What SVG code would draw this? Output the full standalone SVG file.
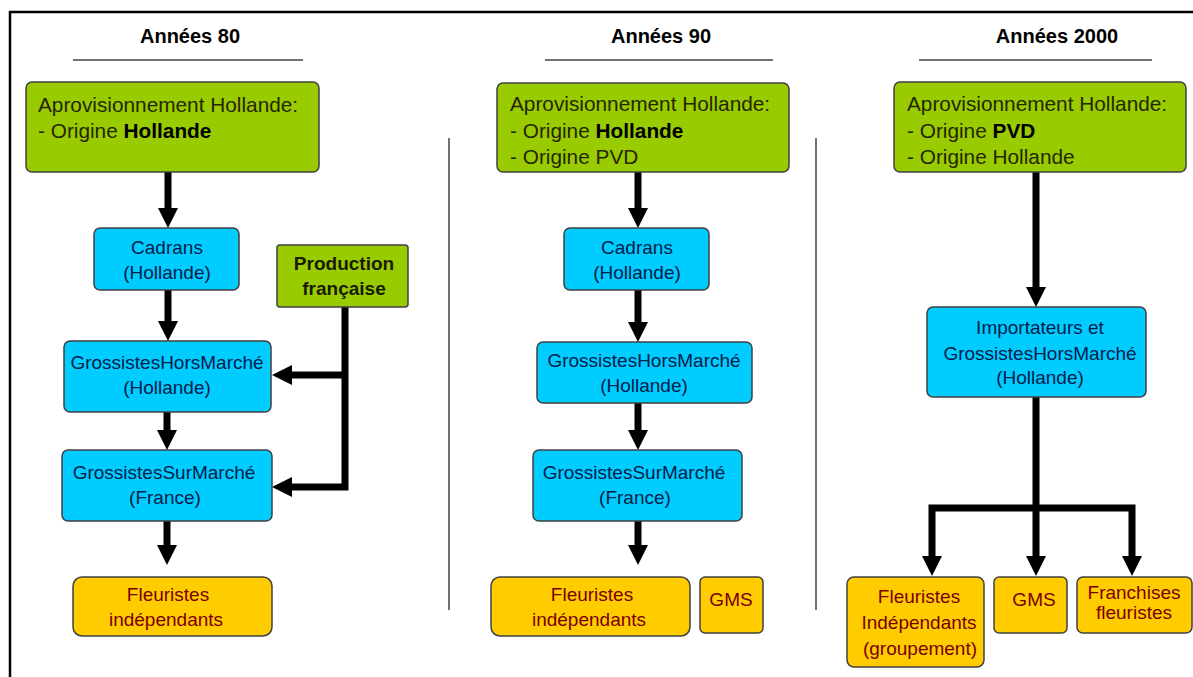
<svg xmlns="http://www.w3.org/2000/svg" width="1193" height="677" viewBox="0 0 1193 677">
  <defs>
    <marker id="arrow" markerUnits="userSpaceOnUse" markerWidth="20" markerHeight="20" viewBox="0 0 20 20" refX="6" refY="10" orient="auto">
      <path d="M0,0 L20,10 L0,20 z" fill="#000"/>
    </marker>
    <style>
      text { font-family: "Liberation Sans", Arial, sans-serif; }
      .hdr { font-size: 20px; font-weight: bold; fill: #000; text-anchor: middle; }
      .rule { stroke: #404040; stroke-width: 1.5; }
      .box { stroke: #404040; stroke-width: 1.5; }
      .green { fill: #99CC00; }
      .blue { fill: #00CCFF; }
      .orange { fill: #FFCC00; }
      .gt { font-size: 20.8px; fill: #262600; }
      .bt { font-size: 19px; fill: #00204a; text-anchor: middle; }
      .ot { font-size: 19px; fill: #7a0000; text-anchor: middle; }
      .pt { font-size: 19px; font-weight: bold; fill: #1a1a00; text-anchor: middle; }
      .b { font-weight: bold; fill: #000; }
      .conn { stroke: #000; stroke-width: 7; fill: none; }
    </style>
  </defs>

  <rect width="1193" height="677" fill="#fff"/>

  <!-- outer frame (top and left edges) -->
  <path d="M10,677 V12 H1193" fill="none" stroke="#000" stroke-width="2.5"/>

  <!-- column headers -->
  <g id="headers">
    <text class="hdr" x="190" y="43">Années 80</text>
    <line class="rule" x1="73" y1="60" x2="303" y2="60"/>
    <text class="hdr" x="661" y="43">Années 90</text>
    <line class="rule" x1="545" y1="60" x2="773" y2="60"/>
    <text class="hdr" x="1057" y="43">Années 2000</text>
    <line class="rule" x1="919" y1="60" x2="1152" y2="60"/>
  </g>

  <!-- column dividers -->
  <g id="dividers">
    <line class="rule" x1="449" y1="138" x2="449" y2="610"/>
    <line class="rule" x1="816" y1="138" x2="816" y2="610"/>
  </g>

  <!-- connectors -->
  <g id="connectors">
    <!-- 80s -->
    <path class="conn" d="M168,172 V214" marker-end="url(#arrow)"/>
    <path class="conn" d="M168,290 V327" marker-end="url(#arrow)"/>
    <path class="conn" d="M167,412 V436" marker-end="url(#arrow)"/>
    <path class="conn" d="M167,521 V551" marker-end="url(#arrow)"/>
    <path class="conn" d="M345,307 V487 H286" marker-end="url(#arrow)"/>
    <path class="conn" d="M345,375 H286" marker-end="url(#arrow)"/>
    <!-- 90s -->
    <path class="conn" d="M638,172 V214" marker-end="url(#arrow)"/>
    <path class="conn" d="M638,290 V328" marker-end="url(#arrow)"/>
    <path class="conn" d="M638,403 V436" marker-end="url(#arrow)"/>
    <path class="conn" d="M638,521 V551" marker-end="url(#arrow)"/>
    <!-- 2000s -->
    <path class="conn" d="M1036,172 V293" marker-end="url(#arrow)"/>
    <path class="conn" d="M1036,397 V562" marker-end="url(#arrow)"/>
    <path class="conn" d="M1036,508 H932 V562" marker-end="url(#arrow)"/>
    <path class="conn" d="M1036,508 H1132 V562" marker-end="url(#arrow)"/>
  </g>

  <!-- Années 80 -->
  <g id="appro80">
    <rect class="box green" x="26" y="82" width="293" height="90" rx="6"/>
    <text class="gt" x="38" y="112">Aprovisionnement Hollande:</text>
    <text class="gt" x="38" y="138">- Origine <tspan class="b">Hollande</tspan></text>
  </g>
  <g id="cadrans80">
    <rect class="box blue" x="94" y="228" width="145" height="62" rx="6"/>
    <text class="bt" x="167" y="254">Cadrans</text>
    <text class="bt" x="167" y="279">(Hollande)</text>
  </g>
  <g id="production80">
    <rect class="box green" x="277" y="245" width="131" height="62" rx="3"/>
    <text class="pt" x="344" y="270">Production</text>
    <text class="pt" x="344" y="295">française</text>
  </g>
  <g id="ghm80">
    <rect class="box blue" x="64" y="341" width="207" height="71" rx="6"/>
    <text class="bt" x="167" y="369">GrossistesHorsMarché</text>
    <text class="bt" x="167" y="394">(Hollande)</text>
  </g>
  <g id="gsm80">
    <rect class="box blue" x="62" y="450" width="210" height="71" rx="6"/>
    <text class="bt" x="164" y="479">GrossistesSurMarché</text>
    <text class="bt" x="165" y="504">(France)</text>
  </g>
  <g id="fleuristes80">
    <rect class="box orange" x="73" y="577" width="199" height="59" rx="9"/>
    <text class="ot" x="168" y="601">Fleuristes</text>
    <text class="ot" x="166" y="626">indépendants</text>
  </g>

  <!-- Années 90 -->
  <g id="appro90">
    <rect class="box green" x="497" y="83" width="292" height="89" rx="6"/>
    <text class="gt" x="510" y="111">Aprovisionnement Hollande:</text>
    <text class="gt" x="510" y="138">- Origine <tspan class="b">Hollande</tspan></text>
    <text class="gt" x="510" y="164">- Origine PVD</text>
  </g>
  <g id="cadrans90">
    <rect class="box blue" x="564" y="228" width="145" height="62" rx="6"/>
    <text class="bt" x="637" y="254">Cadrans</text>
    <text class="bt" x="637" y="279">(Hollande)</text>
  </g>
  <g id="ghm90">
    <rect class="box blue" x="537" y="342" width="215" height="61" rx="6"/>
    <text class="bt" x="644" y="367">GrossistesHorsMarché</text>
    <text class="bt" x="644" y="392">(Hollande)</text>
  </g>
  <g id="gsm90">
    <rect class="box blue" x="533" y="450" width="209" height="71" rx="6"/>
    <text class="bt" x="634" y="479">GrossistesSurMarché</text>
    <text class="bt" x="635" y="504">(France)</text>
  </g>
  <g id="fleuristes90">
    <rect class="box orange" x="491" y="577" width="199" height="59" rx="9"/>
    <text class="ot" x="592" y="601">Fleuristes</text>
    <text class="ot" x="589" y="626">indépendants</text>
  </g>
  <g id="gms90">
    <rect class="box orange" x="700" y="577" width="63" height="56" rx="5"/>
    <text class="ot" x="731" y="606">GMS</text>
  </g>

  <!-- Années 2000 -->
  <g id="appro2000">
    <rect class="box green" x="894" y="82" width="292" height="90" rx="6"/>
    <text class="gt" x="907" y="111">Aprovisionnement Hollande:</text>
    <text class="gt" x="907" y="138">- Origine <tspan class="b">PVD</tspan></text>
    <text class="gt" x="907" y="164">- Origine Hollande</text>
  </g>
  <g id="importateurs2000">
    <rect class="box blue" x="927" y="307" width="219" height="90" rx="6"/>
    <text class="bt" x="1040" y="334">Importateurs et</text>
    <text class="bt" x="1040" y="360">GrossistesHorsMarché</text>
    <text class="bt" x="1040" y="384">(Hollande)</text>
  </g>
  <g id="fleuristes2000">
    <rect class="box orange" x="847" y="577" width="137" height="90" rx="7"/>
    <text class="ot" x="919" y="603">Fleuristes</text>
    <text class="ot" x="919" y="629">Indépendants</text>
    <text class="ot" x="920" y="655">(groupement)</text>
  </g>
  <g id="gms2000">
    <rect class="box orange" x="994" y="577" width="73" height="56" rx="5"/>
    <text class="ot" x="1034" y="606">GMS</text>
  </g>
  <g id="franchises2000">
    <rect class="box orange" x="1077" y="577" width="115" height="56" rx="6"/>
    <text class="ot" x="1134" y="599">Franchises</text>
    <text class="ot" x="1134" y="619">fleuristes</text>
  </g>
</svg>
